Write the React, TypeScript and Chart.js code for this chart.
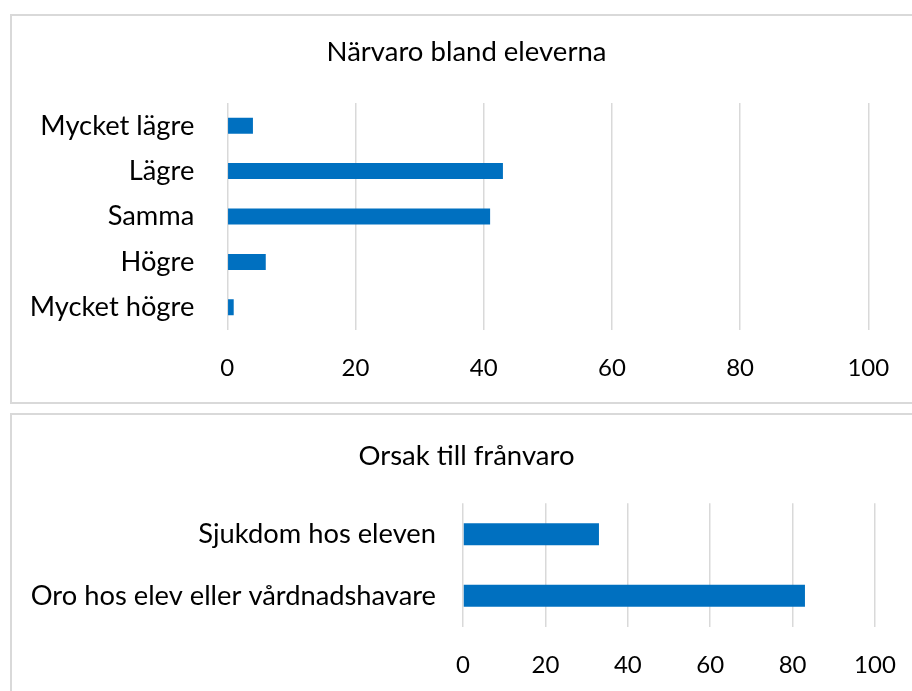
import React, { useEffect, useRef } from "react";
import { Chart, registerables } from "chart.js";

Chart.register(...registerables);

// ---- Data ----
const attendanceTitle = "Närvaro bland eleverna";
const attendanceCategories = ["Mycket lägre", "Lägre", "Samma", "Högre", "Mycket högre"];
const attendanceValues = [4, 43, 41, 6, 1];

const absenceTitle = "Orsak till frånvaro";
const absenceCategories = ["Sjukdom hos eleven", "Oro hos elev eller vårdnadshavare"];
const absenceValues = [33, 83];

const xMin = 0;
const xMax = 100;
const xStep = 20;

const FONT = "Lato, 'Noto Sans', sans-serif";
const TITLE_SIZE = 27.5;
const LABEL_SIZE = 27.3;
const TICK_SIZE = 24;
const BAR_COLOR = "#0070C0";
const GRID_COLOR = "#d9d9d9";
const TEXT_COLOR = "#000000";

// Centre the title on the whole canvas (frame), not on the padded layout box.
const centerTitlePlugin = {
  id: "centerTitle",
  afterLayout(chart: any) {
    const t = chart.titleBlock;
    if (t) {
      t.left = 0;
      t.right = chart.width;
      t.width = chart.width;
    }
  },
};

type PanelProps = {
  title: string;
  labels: string[];
  values: number[];
  left: number;
  top: number;
  width: number;
  height: number;
  rightPad: number;
  yAxisWidth: number;
  yTickPad: number;
  xAxisHeight: number;
  xTickPad: number;
  titleTop: number;
  titleBottom: number;
  barPct: number;
};

function BarPanel(p: PanelProps) {
  const ref = useRef<HTMLCanvasElement | null>(null);
  useEffect(() => {
    if (!ref.current) return;
    const chart = new Chart(ref.current, {
      type: "bar",
      data: {
        labels: p.labels,
        datasets: [
          {
            data: p.values,
            backgroundColor: BAR_COLOR,
            borderWidth: 0,
            categoryPercentage: 1,
            barPercentage: p.barPct,
          },
        ],
      },
      plugins: [centerTitlePlugin],
      options: {
        indexAxis: "y",
        responsive: false,
        animation: false,
        layout: { padding: { top: 0, right: p.rightPad, bottom: 0, left: 0 } },
        plugins: {
          legend: { display: false },
          tooltip: { enabled: false },
          title: {
            display: true,
            text: p.title,
            color: TEXT_COLOR,
            font: { family: FONT, size: TITLE_SIZE, weight: "normal", lineHeight: 1.2 },
            padding: { top: p.titleTop, bottom: p.titleBottom },
          },
        },
        scales: {
          x: {
            type: "linear",
            min: xMin,
            max: xMax,
            ticks: {
              stepSize: xStep,
              color: TEXT_COLOR,
              padding: p.xTickPad,
              font: { family: FONT, size: TICK_SIZE, lineHeight: 1.2 },
            },
            grid: { color: GRID_COLOR, lineWidth: 1.5, drawTicks: false },
            border: { display: false },
            afterFit: (scale: any) => {
              scale.height = p.xAxisHeight;
            },
          },
          y: {
            type: "category",
            ticks: {
              color: TEXT_COLOR,
              padding: p.yTickPad,
              font: { family: FONT, size: LABEL_SIZE, lineHeight: 1.2 },
            },
            grid: { display: false, drawTicks: false },
            border: { display: false },
            afterFit: (scale: any) => {
              scale.width = p.yAxisWidth;
            },
          },
        },
      },
    } as any);
    return () => chart.destroy();
  }, []);

  return (
    <>
      <canvas
        ref={ref}
        width={p.width}
        height={p.height}
        style={{ position: "absolute", left: p.left, top: p.top, width: p.width, height: p.height }}
      />
      <div
        style={{
          position: "absolute",
          left: p.left,
          top: p.top,
          width: p.width,
          height: p.height,
          boxSizing: "border-box",
          border: `2px solid ${GRID_COLOR}`,
          pointerEvents: "none",
        }}
      />
    </>
  );
}

export default function App() {
  return (
    <div
      style={{
        position: "absolute",
        left: 0,
        top: 0,
        width: 912,
        height: 691,
        overflow: "hidden",
        background: "#ffffff",
      }}
    >
      <BarPanel
        title={attendanceTitle}
        labels={attendanceCategories}
        values={attendanceValues}
        left={10}
        top={14}
        width={913}
        height={390}
        rightPad={54.7}
        yAxisWidth={217.3}
        yTickPad={33}
        xAxisHeight={74}
        xTickPad={23.6}
        titleTop={21.5}
        titleBottom={34.5}
        barPct={0.352}
      />
      <BarPanel
        title={absenceTitle}
        labels={absenceCategories}
        values={absenceValues}
        left={10}
        top={413}
        width={913}
        height={290}
        rightPad={48}
        yAxisWidth={453}
        yTickPad={27}
        xAxisHeight={76.3}
        xTickPad={23.9}
        titleTop={26.5}
        titleBottom={30.8}
        barPct={0.356}
      />
    </div>
  );
}
